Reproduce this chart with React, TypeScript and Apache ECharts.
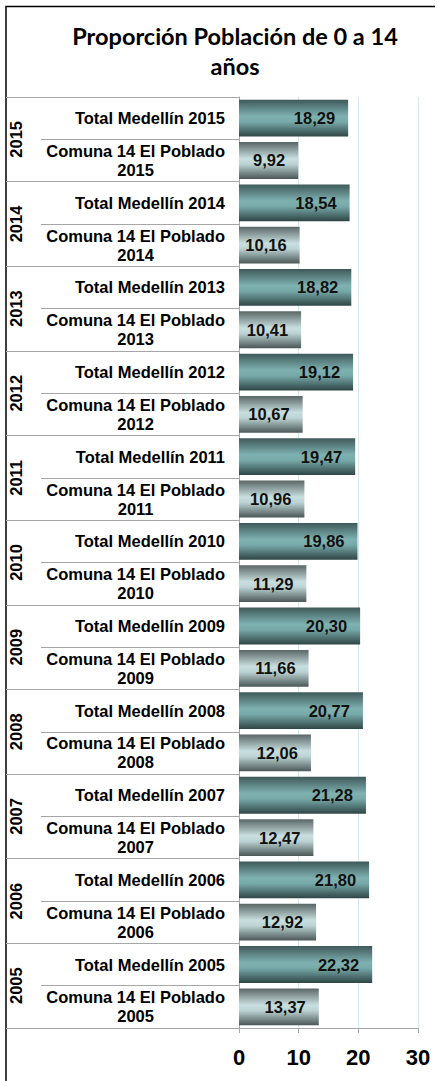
import React, { useEffect, useRef } from "react";
import * as echarts from "echarts";

const years = ["2015", "2014", "2013", "2012", "2011", "2010", "2009", "2008", "2007", "2006", "2005"];
const totalMedellin = [18.29, 18.54, 18.82, 19.12, 19.47, 19.86, 20.3, 20.77, 21.28, 21.8, 22.32];
const comuna14 = [9.92, 10.16, 10.41, 10.67, 10.96, 11.29, 11.66, 12.06, 12.47, 12.92, 13.37];
const xTicks = [0, 10, 20, 30];
const titleText = "Proporción Población de 0 a 14\naños";

const LABEL_FONT = "Arial";

export default function App() {
  const ref = useRef<HTMLDivElement>(null);
  useEffect(() => {
    if (!ref.current) return;
    const chart = echarts.init(ref.current, null, { renderer: "svg" });

    const categories: string[] = [];
    const data: any[] = [];
    const totalGrad = new echarts.graphic.LinearGradient(0, 0, 0, 1, [
      { offset: 0, color: "#3f5959" },
      { offset: 0.45, color: "#7fb1b1" },
      { offset: 0.6, color: "#78a9a9" },
      { offset: 1, color: "#2f4545" },
    ]);
    const comGrad = new echarts.graphic.LinearGradient(0, 0, 0, 1, [
      { offset: 0, color: "#5a6666" },
      { offset: 0.45, color: "#c9dfdf" },
      { offset: 0.6, color: "#bcd3d3" },
      { offset: 1, color: "#4b5757" },
    ]);
    years.forEach((y, i) => {
      categories.push("T|" + y);
      data.push({ value: totalMedellin[i], itemStyle: { color: totalGrad } });
      categories.push("C|" + y);
      data.push({ value: comuna14[i], itemStyle: { color: comGrad } });
    });

    const labelFont = {
      fontFamily: LABEL_FONT,
      fontWeight: "bold" as const,
      fontSize: 16.5,
      color: "#000",
    };

    chart.setOption({
      animation: false,
      backgroundColor: "#fff",
      title: {
        text: titleText,
        left: 230,
        top: 16,
        textAlign: "center",
        textStyle: {
          fontFamily: "Lato",
          fontWeight: "bold",
          fontSize: 23.5,
          lineHeight: 30,
          color: "#000",
        },
      },
      graphic: [
        {
          type: "polyline",
          shape: { points: [[6, 1100], [6, 6.5], [435, 6.5]] },
          style: { stroke: "#000", lineWidth: 1.5, fill: "none" },
          silent: true,
        },
      ],
      grid: { left: 239, right: 19, top: 97, bottom: 53, containLabel: false },
      xAxis: {
        type: "value",
        min: xTicks[0],
        max: xTicks[xTicks.length - 1],
        interval: 10,
        axisLine: { show: true, lineStyle: { color: "#a6a6a6", width: 1 } },
        axisTick: { show: true, length: 5, lineStyle: { color: "#a6a6a6" } },
        splitLine: { show: true, lineStyle: { color: "#d6e7ee", width: 1 } },
        axisLabel: {
          margin: 18,
          fontFamily: LABEL_FONT,
          fontWeight: "bold",
          fontSize: 22,
          color: "#000",
        },
      },
      yAxis: [
        {
          type: "category",
          inverse: true,
          data: categories,
          position: "left",
          axisLine: { show: true, lineStyle: { color: "#a6a6a6", width: 1 } },
          axisTick: { show: true, length: 198, lineStyle: { color: "#a6a6a6", width: 1 } },
          axisLabel: {
            interval: 0,
            margin: 14,
            align: "right",
            formatter: (v: string) => {
              const [k, y] = v.split("|");
              return k === "T"
                ? "{a|Total Medellín " + y + "}"
                : "{a|Comuna 14 El Poblado}\n{a|" + y + "}";
            },
            rich: { a: { ...labelFont, align: "center", lineHeight: 19 } },
          },
        },
        {
          type: "category",
          inverse: true,
          data: years,
          position: "left",
          offset: 0,
          axisLine: { show: false },
          axisTick: { show: true, length: 233, lineStyle: { color: "#a6a6a6", width: 1 } },
          axisLabel: {
            interval: 0,
            rotate: 90,
            margin: 215,
            ...labelFont,
          },
        },
      ],
      series: [
        {
          type: "bar",
          yAxisIndex: 0,
          data,
          barWidth: "87%",
          label: {
            show: true,
            position: "insideRight",
            distance: 13,
            formatter: (p: any) => p.value.toFixed(2).replace(".", ","),
            ...labelFont,
            color: "#111",
          },
        },
      ],
    });
    return () => chart.dispose();
  }, []);
  return (
    <div
      ref={ref}
      style={{ position: "absolute", left: 0, top: 0, width: 437, height: 1081 }}
    />
  );
}
